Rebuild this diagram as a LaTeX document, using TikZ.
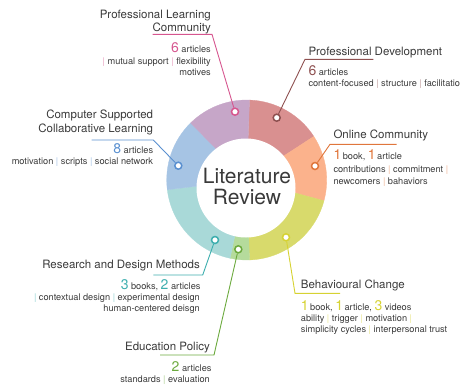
\documentclass[tikz,border=0pt]{standalone}
\usepackage{fontspec}
\setmainfont{TeX Gyre Heros}
\usetikzlibrary{positioning, calc}
\definecolor{lrText}{HTML}{3A3A3A}
\definecolor{segPurple}{HTML}{C6A6C8}
\definecolor{segRed}{HTML}{D99090}
\definecolor{segOrange}{HTML}{FBB28C}
\definecolor{segYellow}{HTML}{D8DA6C}
\definecolor{segGreen}{HTML}{B5DB9C}
\definecolor{segTeal}{HTML}{A9D9D8}
\definecolor{segBlue}{HTML}{A6C4E4}
\definecolor{lnPink}{HTML}{D6568F}
\definecolor{lnBrown}{HTML}{8E5050}
\definecolor{lnOrange}{HTML}{E0763C}
\definecolor{lnYellow}{HTML}{D6D232}
\definecolor{lnGreen}{HTML}{6CAA3E}
\definecolor{lnTeal}{HTML}{3DAEAE}
\definecolor{lnBlue}{HTML}{5A90D0}
\newcommand{\bignum}[2]{{\color{#1}\fontsize{14}{14}\selectfont #2}}
\newcommand{\vsep}[1]{\textcolor{#1!55}{|}}
\tikzset{
  % one unit = one pixel of the layout, y running downwards
  every picture/.append style = {x=1pt, y=-1pt},
  hub/.style   = {inner sep=0pt, align=center, text=lrText,
                  font=\fontsize{21}{21.7}\selectfont},
  ttl/.style   = {inner sep=0pt, text=lrText, font=\fontsize{11.5}{13}\selectfont},
  info/.style  = {inner sep=0pt, text=lrText, font=\fontsize{9.2}{11}\selectfont},
  spot/.style  = {circle, draw=#1, fill=white, line width=1.5pt,
                  inner sep=0pt, minimum size=7pt},
  lead/.style  = {draw=#1, line width=0.9pt},
}

\begin{document}
\begin{tikzpicture}
\useasboundingbox (0,0) rectangle (460,386);

% ---- ring ----------------------------------------------------------------
\coordinate (ring) at (246.7,180);
\foreach \from/\to/\col in {-88/-33/segRed, -33/15/segOrange, 15/88/segYellow,
                            88/102/segGreen, 102/173/segTeal, 173/225.5/segBlue,
                            225.5/272/segPurple}
  \filldraw[fill=\col, draw=\col, line width=0.3pt]
    (ring) -- ++(\from:80) arc[start angle=\from, end angle=\to, radius=80] -- cycle;
\fill[white] (246,188) circle[radius=49.5];
\node[hub] (hub) at (247,186.6) {Literature\\Review};

% ---- dots on the ring ----------------------------------------------------
\node[spot=lnPink]   (plcDot) at (235,111.7) {};
\node[spot=lnBrown]  (pdDot)  at (276.7,117.7) {};
\node[spot=lnOrange] (ocDot)  at (315,166) {};
\node[spot=lnYellow] (bcDot)  at (286,237.3) {};
\node[spot=lnGreen]  (epDot)  at (238.3,249.3) {};
\node[spot=lnTeal]   (rdDot)  at (215,240) {};
\node[spot=lnBlue]   (csDot)  at (178.3,165.7) {};

% ---- professional learning community -------------------------------------
\node[ttl, anchor=base east] (plcA) at (211,18.3) {Professional Learning};
\node[ttl, anchor=base east] (plcB) at (211,31.7) {Community};
\node[info, anchor=base east] (plcN) at (211,52.3) {\bignum{lnPink}{6} articles};
\node[info, anchor=base east] (plcK1) at (211,64.3)
  {\vsep{lnPink} mutual support \vsep{lnPink} flexibility};
\node[info, anchor=base east] (plcK2) at (211,75) {motives};
\coordinate (plcU1) at (152.7,34.3);
\coordinate (plcU2) at (212,34.3);
\draw[lead=lnPink] (plcDot) -- (plcU2) -- (plcU1);

% ---- professional development --------------------------------------------
\node[ttl, anchor=base west] (pdA) at (308.3,55) {Professional Development};
\node[info, anchor=base west] (pdN) at (308.3,75) {\bignum{lnBrown}{6} articles};
\node[info, anchor=base west] (pdK) at (308.3,86.5)
  {content-focused \vsep{lnBrown} structure \vsep{lnBrown} facilitation};
\coordinate (pdU1) at (305,59.3);
\coordinate (pdU2) at (373.3,59.3);
\draw[lead=lnBrown] (pdDot) -- (pdU1) -- (pdU2);

% ---- online community ----------------------------------------------------
\node[ttl, anchor=base west] (ocA) at (333.3,138.3) {Online Community};
\node[info, anchor=base west] (ocN) at (333.3,159.3)
  {\bignum{lnOrange}{1}\,book, \bignum{lnOrange}{1}\,article};
\node[info, anchor=base west] (ocK1) at (333.3,172.7)
  {contributions \vsep{lnOrange} commitment \vsep{lnOrange}};
\node[info, anchor=base west] (ocK2) at (333.3,184)
  {newcomers \vsep{lnOrange} bahaviors};
\coordinate (ocU1) at (330,144.3);
\coordinate (ocU2) at (396.7,144.3);
\draw[lead=lnOrange] (ocDot) -- (ocU1) -- (ocU2);

% ---- behavioural change --------------------------------------------------
\node[ttl, anchor=base west] (bcA) at (300.7,288.3) {Behavioural Change};
\node[info, anchor=base west] (bcN) at (300.7,310)
  {\bignum{lnYellow}{1}\,book, \bignum{lnYellow}{1}\,article, \bignum{lnYellow}{3} videos};
\node[info, anchor=base west] (bcK1) at (300.7,321.7)
  {ability \vsep{lnYellow} trigger \vsep{lnYellow} motivation \vsep{lnYellow}};
\node[info, anchor=base west] (bcK2) at (300.7,332.7)
  {simplicity cycles \vsep{lnYellow} interpersonal trust};
\coordinate (bcU1) at (295,293.3);
\coordinate (bcU2) at (340,293.3);
\draw[lead=lnYellow] (bcDot) -- (bcU1) -- (bcU2);

% ---- education policy ----------------------------------------------------
\node[ttl, anchor=base east] (epA) at (210,350) {Education Policy};
\node[info, anchor=base east] (epN) at (211.7,371.7) {\bignum{lnGreen}{2} articles};
\node[info, anchor=base east] (epK) at (210,382.7)
  {standards \vsep{lnGreen} evaluation};
\coordinate (epU1) at (160,355);
\coordinate (epU2) at (214,355);
\draw[lead=lnGreen] (epDot) -- (epU2) -- (epU1);

% ---- research and design methods -----------------------------------------
\node[ttl, anchor=base east] (rdA) at (200,268.3) {Research and Design Methods};
\node[info, anchor=base east] (rdN) at (200.7,289.3)
  {\bignum{lnTeal}{3} books, \bignum{lnTeal}{2} articles};
\node[info, anchor=base east] (rdK1) at (200,300)
  {\vsep{lnTeal} contextual design \vsep{lnTeal} experimental design};
\node[info, anchor=base east] (rdK2) at (200,311.7) {human-centered deisgn};
\coordinate (rdU1) at (153.3,275);
\coordinate (rdU2) at (202.7,275);
\draw[lead=lnTeal] (rdDot) -- (rdU2) -- (rdU1);

% ---- computer supported collaborative learning ---------------------------
\node[ttl, anchor=base east] (csA) at (153.3,118.3) {Computer Supported};
\node[ttl, anchor=base east] (csB) at (153.3,132.7) {Collaborative Learning};
\node[info, anchor=base east] (csN) at (153.3,153.3) {\bignum{lnBlue}{8} articles};
\node[info, anchor=base east] (csK) at (153.3,164)
  {motivation \vsep{lnBlue} scripts \vsep{lnBlue} social network};
\coordinate (csU1) at (91.7,140);
\coordinate (csU2) at (153.3,140);
\draw[lead=lnBlue] (csDot) -- (csU2) -- (csU1);
\end{tikzpicture}
\end{document}
